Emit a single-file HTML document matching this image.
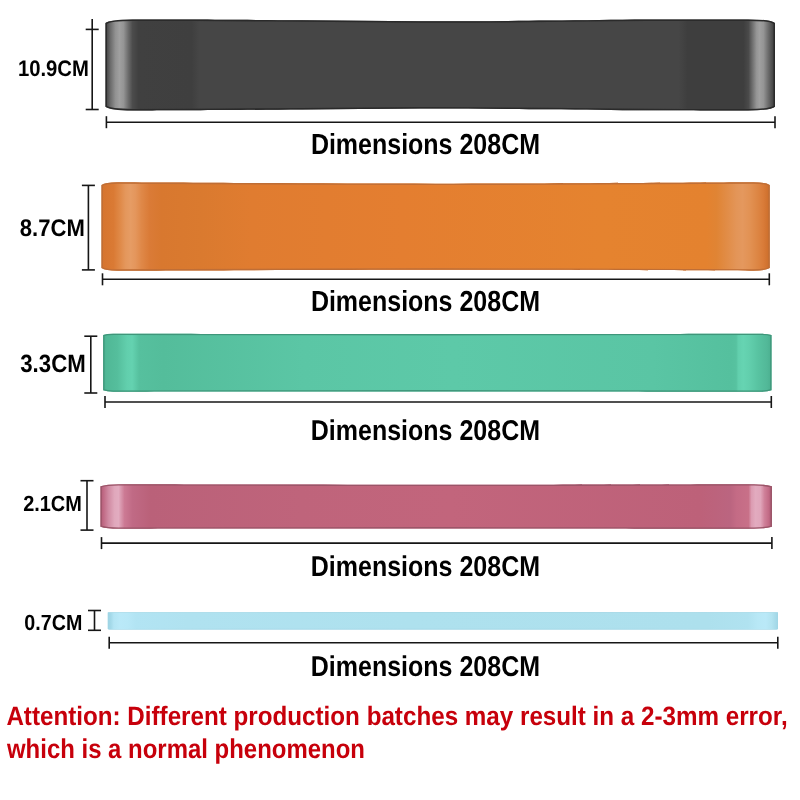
<!DOCTYPE html>
<html><head><meta charset="utf-8"><style>
html,body{margin:0;padding:0;background:#fff;}
body{width:800px;height:800px;overflow:hidden;position:relative;}
svg{position:absolute;left:0;top:0;display:block;will-change:transform;}
text{font-family:"Liberation Sans", sans-serif;font-weight:bold;text-rendering:geometricPrecision;}
</style></head><body>
<svg width="800" height="800" viewBox="0 0 800 800">
<defs><linearGradient id="g1" gradientUnits="objectBoundingBox" x1="0" y1="0" x2="1" y2="0"><stop offset="0.0000" stop-color="#3a3a3a"/><stop offset="0.0022" stop-color="#4a4a4a"/><stop offset="0.0075" stop-color="#6c6c6c"/><stop offset="0.0149" stop-color="#929292"/><stop offset="0.0209" stop-color="#a0a0a0"/><stop offset="0.0269" stop-color="#959595"/><stop offset="0.0344" stop-color="#6a6a6a"/><stop offset="0.0403" stop-color="#4c4c4c"/><stop offset="0.0493" stop-color="#404040"/><stop offset="0.1285" stop-color="#3f3f3f"/><stop offset="0.1404" stop-color="#464646"/><stop offset="0.8559" stop-color="#464646"/><stop offset="0.8693" stop-color="#3e3e3e"/><stop offset="0.9529" stop-color="#3e3e3e"/><stop offset="0.9604" stop-color="#4a4a4a"/><stop offset="0.9664" stop-color="#707070"/><stop offset="0.9724" stop-color="#959595"/><stop offset="0.9768" stop-color="#a0a0a0"/><stop offset="0.9828" stop-color="#959595"/><stop offset="0.9903" stop-color="#6a6a6a"/><stop offset="0.9963" stop-color="#4a4a4a"/><stop offset="1.0000" stop-color="#3a3a3a"/></linearGradient><clipPath id="c1"><path d="M105.5,23.099999999999998 Q109.55,19.4 132.5,19.4 C142.75,19.42 165.70,19.35 193.99,19.50 C222.28,19.65 264.54,20.00 302.25,20.30 C339.97,20.60 379.31,21.25 420.31,21.30 C461.31,21.35 510.55,20.90 548.27,20.60 C585.99,20.30 613.34,19.70 646.63,19.50 C679.92,19.30 731.10,19.42 748.00,19.40 Q770.95,19.4 775,23.099999999999998 L775,106.7 Q770.95,110.4 748,110.4 C731.10,110.38 679.92,110.50 646.63,110.30 C613.34,110.10 585.99,109.50 548.27,109.20 C510.55,108.90 461.31,108.45 420.31,108.50 C379.31,108.55 339.97,109.20 302.25,109.50 C264.54,109.80 222.28,110.15 193.99,110.30 C165.70,110.45 142.75,110.38 132.50,110.40 Q109.55,110.4 105.5,106.7 Z"/></clipPath><linearGradient id="g2" gradientUnits="objectBoundingBox" x1="0" y1="0" x2="1" y2="0"><stop offset="0.0000" stop-color="#c66c2a"/><stop offset="0.0022" stop-color="#d6752f"/><stop offset="0.0180" stop-color="#da7a34"/><stop offset="0.0269" stop-color="#df8846"/><stop offset="0.0359" stop-color="#e4975c"/><stop offset="0.0434" stop-color="#e69c64"/><stop offset="0.0509" stop-color="#e4965c"/><stop offset="0.0599" stop-color="#df8848"/><stop offset="0.0718" stop-color="#da7b37"/><stop offset="0.0898" stop-color="#d8782f"/><stop offset="0.1497" stop-color="#da7a2f"/><stop offset="0.2245" stop-color="#e07c30"/><stop offset="0.4490" stop-color="#e47e30"/><stop offset="0.7483" stop-color="#e5832f"/><stop offset="0.9054" stop-color="#e4822f"/><stop offset="0.9204" stop-color="#e08434"/><stop offset="0.9353" stop-color="#e18c46"/><stop offset="0.9503" stop-color="#e39558"/><stop offset="0.9593" stop-color="#e4985e"/><stop offset="0.9698" stop-color="#e29254"/><stop offset="0.9817" stop-color="#dd8644"/><stop offset="0.9907" stop-color="#d97b38"/><stop offset="0.9967" stop-color="#d0722f"/><stop offset="1.0000" stop-color="#c66c2a"/></linearGradient><clipPath id="c2"><path d="M101.5,184.9 Q105.50,182.3 117.5,182.3 C170.52,182.53 329.57,183.70 435.60,183.70 C541.63,183.70 700.68,182.53 753.70,182.30 Q765.70,182.3 769.7,184.9 L769.7,268.09999999999997 Q765.70,270.7 753.7,270.7 C700.68,270.53 541.63,269.70 435.60,269.70 C329.57,269.70 170.52,270.53 117.50,270.70 Q105.50,270.7 101.5,268.09999999999997 Z"/></clipPath><linearGradient id="g3" gradientUnits="objectBoundingBox" x1="0" y1="0" x2="1" y2="0"><stop offset="0.0000" stop-color="#4aae8e"/><stop offset="0.0045" stop-color="#50b896"/><stop offset="0.0209" stop-color="#55be9c"/><stop offset="0.0359" stop-color="#62cfad"/><stop offset="0.0434" stop-color="#64d2b0"/><stop offset="0.0539" stop-color="#56c09e"/><stop offset="0.0898" stop-color="#54bd9b"/><stop offset="0.2993" stop-color="#5bc6a5"/><stop offset="0.5237" stop-color="#5dc9a8"/><stop offset="0.8230" stop-color="#5ac5a4"/><stop offset="0.9397" stop-color="#55c09e"/><stop offset="0.9472" stop-color="#57c2a0"/><stop offset="0.9502" stop-color="#62cfad"/><stop offset="0.9577" stop-color="#66d4b2"/><stop offset="0.9666" stop-color="#62cfad"/><stop offset="0.9801" stop-color="#58c3a1"/><stop offset="0.9936" stop-color="#52b898"/><stop offset="1.0000" stop-color="#4aae8e"/></linearGradient><clipPath id="c3"><path d="M103.2,335.09999999999997 Q106.70,333.7 113.2,333.7 C167.22,333.77 329.30,334.10 437.35,334.10 C545.40,334.10 707.48,333.77 761.50,333.70 Q768.00,333.7 771.5,335.09999999999997 L771.5,390.3 Q768.00,391.7 761.5,391.7 C707.48,391.65 545.40,391.40 437.35,391.40 C329.30,391.40 167.22,391.65 113.20,391.70 Q106.70,391.7 103.2,390.3 Z"/></clipPath><linearGradient id="g4" gradientUnits="objectBoundingBox" x1="0" y1="0" x2="1" y2="0"><stop offset="0.0000" stop-color="#b05a75"/><stop offset="0.0045" stop-color="#c06a85"/><stop offset="0.0119" stop-color="#d08aa2"/><stop offset="0.0209" stop-color="#e0a8bc"/><stop offset="0.0268" stop-color="#e2acc0"/><stop offset="0.0357" stop-color="#cc7a94"/><stop offset="0.0477" stop-color="#c06a85"/><stop offset="0.0745" stop-color="#ba6179"/><stop offset="0.2979" stop-color="#bf647b"/><stop offset="0.5213" stop-color="#c2657c"/><stop offset="0.8937" stop-color="#bd6179"/><stop offset="0.9383" stop-color="#bb6580"/><stop offset="0.9473" stop-color="#c46b85"/><stop offset="0.9651" stop-color="#c87088"/><stop offset="0.9696" stop-color="#dc9cb2"/><stop offset="0.9756" stop-color="#e2abbf"/><stop offset="0.9830" stop-color="#e0a6bb"/><stop offset="0.9890" stop-color="#cf8099"/><stop offset="0.9949" stop-color="#c36c87"/><stop offset="1.0000" stop-color="#a85570"/></linearGradient><clipPath id="c4"><path d="M100.5,486.3 Q106.80,484.3 118.5,484.3 C171.45,484.38 330.30,484.80 436.20,484.80 C542.10,484.80 700.95,484.38 753.90,484.30 Q765.60,484.3 771.9,486.3 L771.9,526.7 Q765.60,528.7 753.9,528.7 C700.95,528.65 542.10,528.40 436.20,528.40 C330.30,528.40 171.45,528.65 118.50,528.70 Q106.80,528.7 100.5,526.7 Z"/></clipPath><linearGradient id="g5" gradientUnits="objectBoundingBox" x1="0" y1="0" x2="1" y2="0"><stop offset="0.0000" stop-color="#9ed4e4"/><stop offset="0.0045" stop-color="#a4d9e9"/><stop offset="0.0090" stop-color="#b4e5f4"/><stop offset="0.0179" stop-color="#bae9f8"/><stop offset="0.0298" stop-color="#b8e8f7"/><stop offset="0.0418" stop-color="#b2e4f3"/><stop offset="0.1194" stop-color="#b0e2f0"/><stop offset="0.4476" stop-color="#aee1ee"/><stop offset="0.8953" stop-color="#ade0ed"/><stop offset="0.9549" stop-color="#b0e2f0"/><stop offset="0.9699" stop-color="#b8e8f6"/><stop offset="0.9818" stop-color="#bae9f8"/><stop offset="0.9907" stop-color="#b2e3f0"/><stop offset="0.9967" stop-color="#a6dae9"/><stop offset="1.0000" stop-color="#9fd6e6"/></linearGradient><clipPath id="c5"><path d="M107.8,612.6 Q108.02,612.2 109.3,612.2 C164.90,612.22 331.70,612.30 442.90,612.30 C554.10,612.30 720.90,612.22 776.50,612.20 Q777.77,612.2 778,612.6 L778,629.1 Q777.77,629.5 776.5,629.5 C720.90,629.48 554.10,629.40 442.90,629.40 C331.70,629.40 164.90,629.48 109.30,629.50 Q108.02,629.5 107.8,629.1 Z"/></clipPath></defs>
<path d="M105.5,23.099999999999998 Q109.55,19.4 132.5,19.4 C142.75,19.42 165.70,19.35 193.99,19.50 C222.28,19.65 264.54,20.00 302.25,20.30 C339.97,20.60 379.31,21.25 420.31,21.30 C461.31,21.35 510.55,20.90 548.27,20.60 C585.99,20.30 613.34,19.70 646.63,19.50 C679.92,19.30 731.10,19.42 748.00,19.40 Q770.95,19.4 775,23.099999999999998 L775,106.7 Q770.95,110.4 748,110.4 C731.10,110.38 679.92,110.50 646.63,110.30 C613.34,110.10 585.99,109.50 548.27,109.20 C510.55,108.90 461.31,108.45 420.31,108.50 C379.31,108.55 339.97,109.20 302.25,109.50 C264.54,109.80 222.28,110.15 193.99,110.30 C165.70,110.45 142.75,110.38 132.50,110.40 Q109.55,110.4 105.5,106.7 Z" fill="url(#g1)"/><path d="M105.5,23.099999999999998 Q109.55,19.4 132.5,19.4 C142.75,19.42 165.70,19.35 193.99,19.50 C222.28,19.65 264.54,20.00 302.25,20.30 C339.97,20.60 379.31,21.25 420.31,21.30 C461.31,21.35 510.55,20.90 548.27,20.60 C585.99,20.30 613.34,19.70 646.63,19.50 C679.92,19.30 731.10,19.42 748.00,19.40 Q770.95,19.4 775,23.099999999999998 L775,106.7 Q770.95,110.4 748,110.4 C731.10,110.38 679.92,110.50 646.63,110.30 C613.34,110.10 585.99,109.50 548.27,109.20 C510.55,108.90 461.31,108.45 420.31,108.50 C379.31,108.55 339.97,109.20 302.25,109.50 C264.54,109.80 222.28,110.15 193.99,110.30 C165.70,110.45 142.75,110.38 132.50,110.40 Q109.55,110.4 105.5,106.7 Z" fill="none" stroke="#2a2a2a" stroke-width="3.0" clip-path="url(#c1)"/><path d="M101.5,184.9 Q105.50,182.3 117.5,182.3 C170.52,182.53 329.57,183.70 435.60,183.70 C541.63,183.70 700.68,182.53 753.70,182.30 Q765.70,182.3 769.7,184.9 L769.7,268.09999999999997 Q765.70,270.7 753.7,270.7 C700.68,270.53 541.63,269.70 435.60,269.70 C329.57,269.70 170.52,270.53 117.50,270.70 Q105.50,270.7 101.5,268.09999999999997 Z" fill="url(#g2)"/><path d="M101.5,184.9 Q105.50,182.3 117.5,182.3 C170.52,182.53 329.57,183.70 435.60,183.70 C541.63,183.70 700.68,182.53 753.70,182.30 Q765.70,182.3 769.7,184.9 L769.7,268.09999999999997 Q765.70,270.7 753.7,270.7 C700.68,270.53 541.63,269.70 435.60,269.70 C329.57,269.70 170.52,270.53 117.50,270.70 Q105.50,270.7 101.5,268.09999999999997 Z" fill="none" stroke="#bf6e36" stroke-width="2.8" clip-path="url(#c2)"/><path d="M103.2,335.09999999999997 Q106.70,333.7 113.2,333.7 C167.22,333.77 329.30,334.10 437.35,334.10 C545.40,334.10 707.48,333.77 761.50,333.70 Q768.00,333.7 771.5,335.09999999999997 L771.5,390.3 Q768.00,391.7 761.5,391.7 C707.48,391.65 545.40,391.40 437.35,391.40 C329.30,391.40 167.22,391.65 113.20,391.70 Q106.70,391.7 103.2,390.3 Z" fill="url(#g3)"/><path d="M103.2,335.09999999999997 Q106.70,333.7 113.2,333.7 C167.22,333.77 329.30,334.10 437.35,334.10 C545.40,334.10 707.48,333.77 761.50,333.70 Q768.00,333.7 771.5,335.09999999999997 L771.5,390.3 Q768.00,391.7 761.5,391.7 C707.48,391.65 545.40,391.40 437.35,391.40 C329.30,391.40 167.22,391.65 113.20,391.70 Q106.70,391.7 103.2,390.3 Z" fill="none" stroke="#3f967a" stroke-width="2.6" clip-path="url(#c3)"/><path d="M100.5,486.3 Q106.80,484.3 118.5,484.3 C171.45,484.38 330.30,484.80 436.20,484.80 C542.10,484.80 700.95,484.38 753.90,484.30 Q765.60,484.3 771.9,486.3 L771.9,526.7 Q765.60,528.7 753.9,528.7 C700.95,528.65 542.10,528.40 436.20,528.40 C330.30,528.40 171.45,528.65 118.50,528.70 Q106.80,528.7 100.5,526.7 Z" fill="url(#g4)"/><path d="M100.5,486.3 Q106.80,484.3 118.5,484.3 C171.45,484.38 330.30,484.80 436.20,484.80 C542.10,484.80 700.95,484.38 753.90,484.30 Q765.60,484.3 771.9,486.3 L771.9,526.7 Q765.60,528.7 753.9,528.7 C700.95,528.65 542.10,528.40 436.20,528.40 C330.30,528.40 171.45,528.65 118.50,528.70 Q106.80,528.7 100.5,526.7 Z" fill="none" stroke="#9a5568" stroke-width="2.6" clip-path="url(#c4)"/><path d="M107.8,612.6 Q108.02,612.2 109.3,612.2 C164.90,612.22 331.70,612.30 442.90,612.30 C554.10,612.30 720.90,612.22 776.50,612.20 Q777.77,612.2 778,612.6 L778,629.1 Q777.77,629.5 776.5,629.5 C720.90,629.48 554.10,629.40 442.90,629.40 C331.70,629.40 164.90,629.48 109.30,629.50 Q108.02,629.5 107.8,629.1 Z" fill="url(#g5)"/><path d="M107.8,612.6 Q108.02,612.2 109.3,612.2 C164.90,612.22 331.70,612.30 442.90,612.30 C554.10,612.30 720.90,612.22 776.50,612.20 Q777.77,612.2 778,612.6 L778,629.1 Q777.77,629.5 776.5,629.5 C720.90,629.48 554.10,629.40 442.90,629.40 C331.70,629.40 164.90,629.48 109.30,629.50 Q108.02,629.5 107.8,629.1 Z" fill="none" stroke="#a2d6e5" stroke-width="1.2" clip-path="url(#c5)"/>
<g stroke="#161616" stroke-width="1.6" fill="none"><line x1="92.2" y1="19" x2="92.2" y2="109.5" /><line x1="85.7" y1="29.4" x2="98.7" y2="29.4" /><line x1="85.7" y1="109.5" x2="98.7" y2="109.5" /><line x1="106.4" y1="122.2" x2="775" y2="122.2" /><line x1="106.4" y1="116.2" x2="106.4" y2="128.2" /><line x1="775" y1="116.2" x2="775" y2="128.2" /><line x1="88.4" y1="185.4" x2="88.4" y2="269.9" /><line x1="81.9" y1="185.4" x2="94.9" y2="185.4" /><line x1="81.9" y1="269.9" x2="94.9" y2="269.9" /><line x1="102.5" y1="279.3" x2="769.3" y2="279.3" /><line x1="102.5" y1="273.3" x2="102.5" y2="285.3" /><line x1="769.3" y1="273.3" x2="769.3" y2="285.3" /><line x1="90.8" y1="336.2" x2="90.8" y2="393" /><line x1="84.3" y1="336.2" x2="97.3" y2="336.2" /><line x1="84.3" y1="393" x2="97.3" y2="393" /><line x1="105" y1="402" x2="771.3" y2="402" /><line x1="105" y1="396" x2="105" y2="408" /><line x1="771.3" y1="396" x2="771.3" y2="408" /><line x1="87" y1="480.7" x2="87" y2="530.1" /><line x1="80.5" y1="480.7" x2="93.5" y2="480.7" /><line x1="80.5" y1="530.1" x2="93.5" y2="530.1" /><line x1="101.5" y1="543.1" x2="771.9" y2="543.1" /><line x1="101.5" y1="537.1" x2="101.5" y2="549.1" /><line x1="771.9" y1="537.1" x2="771.9" y2="549.1" /><line x1="94.5" y1="610.5" x2="94.5" y2="630.3" /><line x1="88.0" y1="610.5" x2="101.0" y2="610.5" /><line x1="88.0" y1="630.3" x2="101.0" y2="630.3" /><line x1="109.2" y1="642.8" x2="777.8" y2="642.8" /><line x1="109.2" y1="636.8" x2="109.2" y2="648.8" /><line x1="777.8" y1="636.8" x2="777.8" y2="648.8" /></g>
<text x="17.96" y="75.84" font-size="22.42" textLength="70.93" lengthAdjust="spacingAndGlyphs" fill="#000">10.9CM</text><text x="19.78" y="235.8" font-size="24.05" textLength="65.0" lengthAdjust="spacingAndGlyphs" fill="#000">8.7CM</text><text x="20.22" y="371.75" font-size="24.96" textLength="65.5" lengthAdjust="spacingAndGlyphs" fill="#000">3.3CM</text><text x="23.13" y="510.77" font-size="21.93" textLength="58.74" lengthAdjust="spacingAndGlyphs" fill="#000">2.1CM</text><text x="24.35" y="629.6" font-size="21.99" textLength="57.94" lengthAdjust="spacingAndGlyphs" fill="#000">0.7CM</text><text x="310.89" y="153.7" font-size="29.1" textLength="229.14" lengthAdjust="spacingAndGlyphs" fill="#000">Dimensions 208CM</text><text x="310.89" y="310.7" font-size="29.1" textLength="229.14" lengthAdjust="spacingAndGlyphs" fill="#000">Dimensions 208CM</text><text x="310.78" y="439.7" font-size="28.6" textLength="229.25" lengthAdjust="spacingAndGlyphs" fill="#000">Dimensions 208CM</text><text x="310.78" y="575.7" font-size="28.6" textLength="229.25" lengthAdjust="spacingAndGlyphs" fill="#000">Dimensions 208CM</text><text x="310.78" y="676.45" font-size="28.6" textLength="229.25" lengthAdjust="spacingAndGlyphs" fill="#000">Dimensions 208CM</text><text x="6.38" y="725.46" font-size="26.67" textLength="781.25" lengthAdjust="spacingAndGlyphs" fill="#c7000b">Attention: Different production batches may result in a 2-3mm error,</text><text x="6.99" y="758.0" font-size="27.15" textLength="357.9" lengthAdjust="spacingAndGlyphs" fill="#c7000b">which is a normal phenomenon</text>
</svg>
</body></html>
